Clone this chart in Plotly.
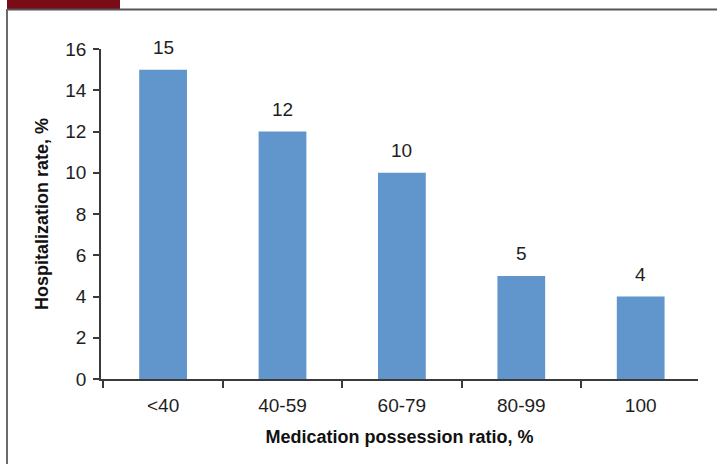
import plotly.graph_objects as go

# Hospitalization rate by medication possession ratio
categories = ["<40", "40-59", "60-79", "80-99", "100"]
rates = [15, 12, 10, 5, 4]
y_ticks = [0, 2, 4, 6, 8, 10, 12, 14, 16]

W, H = 717, 464
L, R, T, B = 101, 19, 49, 85
pw, ph = W - L - R, H - T - B


def px_x(p):
    return (p - L) / pw


def px_y(p):
    return (H - B - p) / ph


TICK_FONT = dict(family="Liberation Sans, Arial, sans-serif", size=19, color="#1e1e1e")
TITLE_FONT = dict(family="Liberation Sans, Arial, sans-serif", size=18, color="#111111")
AXIS_COL = "#3a3a3a"

fig = go.Figure(
    go.Bar(
        x=categories,
        y=rates,
        width=0.4,
        marker=dict(color="#6096cc", line=dict(width=0)),
        hoverinfo="skip",
    )
)

# value labels above each bar (positioned by category index)
for i, v in enumerate(rates):
    fig.add_annotation(
        x=i, y=v, text=str(v), showarrow=False,
        yanchor="bottom", yshift=10, font=TICK_FONT,
    )

shapes = [
    # maroon header block
    dict(type="rect", xref="paper", yref="paper",
         x0=px_x(7), x1=px_x(120), y0=px_y(9), y1=px_y(-2),
         fillcolor="#7a0c18", line=dict(width=0), layer="above"),
    # header rule
    dict(type="line", xref="paper", yref="paper",
         x0=px_x(7), x1=px_x(720), y0=px_y(9.5), y1=px_y(9.5),
         line=dict(color="#555555", width=2)),
    # left frame
    dict(type="line", xref="paper", yref="paper",
         x0=px_x(7), x1=px_x(7), y0=px_y(9), y1=px_y(470),
         line=dict(color="#6a6a6a", width=2)),
]

fig.update_layout(
    width=W, height=H,
    margin=dict(l=L, r=R, t=T, b=B, pad=0),
    paper_bgcolor="white", plot_bgcolor="white",
    showlegend=False,
    bargap=0.6,
    shapes=shapes,
    xaxis=dict(
        type="category", range=[-0.52, 4.48],
        showgrid=False, zeroline=False,
        showline=True, linecolor=AXIS_COL, linewidth=1.5,
        ticks="outside", tickson="boundaries", ticklen=7, tickwidth=1.5, tickcolor=AXIS_COL,
        tickfont=TICK_FONT, ticklabelstandoff=8,
        title=dict(text="<b>Medication possession ratio, %</b>", font=TITLE_FONT, standoff=16),
    ),
    yaxis=dict(
        range=[0, 16], tickvals=y_ticks,
        showgrid=False, zeroline=False,
        showline=True, linecolor=AXIS_COL, linewidth=1.5,
        ticks="outside", ticklen=6, tickwidth=1.5, tickcolor=AXIS_COL,
        tickfont=TICK_FONT, ticklabelstandoff=3,
        title=dict(text="<b>Hospitalization rate, %</b>", font=TITLE_FONT, standoff=12),
    ),
)

fig.write_html("out.html")
